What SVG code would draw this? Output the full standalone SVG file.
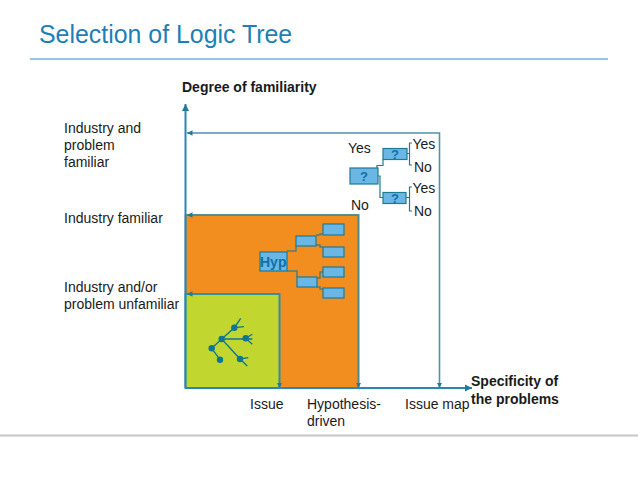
<svg xmlns="http://www.w3.org/2000/svg" width="638" height="479" viewBox="0 0 638 479">
<style>
text{font-family:"Liberation Sans",Arial,sans-serif;font-size:14px;fill:#1a1a1a}
.b{font-weight:bold}
.box{fill:#6ab7e6;stroke:#1f7a96;stroke-width:1.2}
.q{font-weight:bold;font-size:13px;fill:#1070a8;text-anchor:middle}
.ln{fill:none;stroke:#4f93b3;stroke-width:1.6}
.ax{fill:none;stroke:#2a86b5;stroke-width:2}
.tw{fill:none;stroke:#1f7a96;stroke-width:1.2}
.tr{fill:none;stroke:#0f7592;stroke-width:1.3}
.dot{fill:#0f7592}
</style>
<defs>
<marker id="a" markerUnits="userSpaceOnUse" markerWidth="8" markerHeight="8" refX="7" refY="4" orient="auto"><path d="M0 0.500L7 4L0 7.500Z" fill="#1f7a9e"/></marker>
<marker id="s" markerUnits="userSpaceOnUse" markerWidth="6" markerHeight="6" refX="5.500" refY="3" orient="auto-start-reverse"><path d="M0 0.300L5.500 3L0 5.700Z" fill="#1f7a9e"/></marker>
</defs>
<rect width="638" height="479" fill="#fff"/>
<text id="title" x="39" y="43" style="font-size:24.900px;fill:#1c7fb5">Selection of Logic Tree</text>
<path d="M30 59H608" stroke="#2f8fbb" stroke-width="1.2"/>
<path d="M0 435.500H638" stroke="#c6c6c6" stroke-width="2"/>
<g id="area-hypothesis"><rect x="185.500" y="215" width="173" height="173" fill="#f18e1f" stroke="#4f8a8b" stroke-width="1.6"/></g>
<g id="area-issue"><rect x="185.500" y="294" width="94" height="94" fill="#c1d72f" stroke="#2f8fa0" stroke-width="1.6"/></g>
<g id="connectors">
<path class="ax" d="M185.500 388V104" marker-end="url(#a)"/>
<path class="ax" d="M185 388H472" marker-end="url(#a)"/>
<path class="ln" d="M439.500 388V133H187" marker-start="url(#s)" marker-end="url(#s)"/>
<path class="ln" d="M358.500 388V215H187" style="stroke:#4f8a8b" marker-start="url(#s)" marker-end="url(#s)"/>
<path class="ln" d="M279.500 388V294H187" style="stroke:#2f8fa0" marker-start="url(#s)" marker-end="url(#s)"/>
<path class="tw" d="M377 168V165.500H383V159.500M378 176H380V197.500H383M407 153.500H409.500V143H412M409.500 153.500V165H412M406 197.500H409.500V187H412M409.500 197.500V211H412"/>
<path d="M287 251H296V245M287 271H297V277M316 235H320V234H323M316 245H320V247H323M317 278H320V272H323M317 287H320V289H323" fill="none" stroke="#4f7f7a" stroke-width="1.500"/>
</g>
<g id="q-root"><rect class="box" x="350" y="168" width="28" height="16"/><text class="q" x="364" y="181">?</text></g>
<g id="q-top"><rect class="box" x="383" y="148.500" width="24" height="11"/><text class="q" x="395" y="159">?</text></g>
<g id="q-bot"><rect class="box" x="383" y="192.500" width="23" height="11"/><text class="q" x="395" y="203">?</text></g>
<g id="hyp"><rect class="box" x="260" y="252" width="27" height="19"/><text x="260" y="267" class="b" style="fill:#1070a8">Hyp</text></g>
<g id="hyp-boxes">
<rect class="box" x="296" y="236" width="20" height="10"/>
<rect class="box" x="297" y="277" width="20" height="10"/>
<rect class="box" x="323" y="224" width="21" height="11"/>
<rect class="box" x="323" y="247" width="21" height="10"/>
<rect class="box" x="323" y="267" width="21" height="10"/>
<rect class="box" x="323" y="288" width="21" height="10"/>
</g>
<g id="tree">
<path class="tr" d="M211.700 348.300L221.700 339L234.300 327.700L240.700 318.300M234.300 327.700L244 326.700M221.700 339H252.300M245.700 338.300L252.300 334.300M245.700 338.300L252.300 344.300M221.700 339L240 359L247.300 366M240 359L248.300 357.700M211.700 348.300L220 359.700"/>
<circle class="dot" cx="211.700" cy="348.300" r="3.200"/><circle class="dot" cx="221.700" cy="339" r="3.200"/><circle class="dot" cx="234.300" cy="327.700" r="3.200"/><circle class="dot" cx="245.700" cy="338.300" r="3.200"/><circle class="dot" cx="240" cy="359" r="3.200"/><circle class="dot" cx="220" cy="359.700" r="3.200"/>
</g>
<g id="labels">
<text class="b" x="182" y="92">Degree of familiarity</text>
<text x="64" y="133">Industry and</text><text x="64" y="150">problem</text><text x="64" y="167">familiar</text>
<text x="64" y="223">Industry familiar</text>
<text x="64" y="292">Industry and/or</text><text x="64" y="309">problem unfamiliar</text>
<text x="250" y="409">Issue</text>
<text x="307" y="409">Hypothesis-</text><text x="307" y="426">driven</text>
<text x="405" y="409">Issue map</text>
<text class="b" x="471" y="386">Specificity of</text><text class="b" x="471" y="404">the problems</text>
<text x="348" y="153">Yes</text><text x="351" y="210">No</text>
<text x="412.500" y="149">Yes</text><text x="414" y="172">No</text>
<text x="412.500" y="193">Yes</text><text x="414" y="216">No</text>
</g>
</svg>
